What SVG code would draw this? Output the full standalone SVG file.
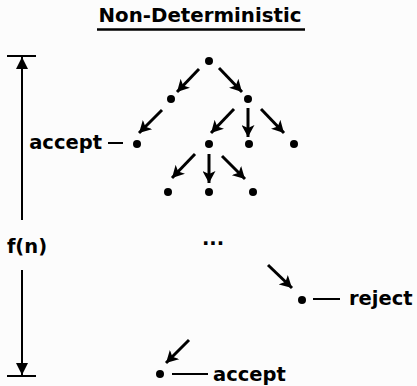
<svg xmlns="http://www.w3.org/2000/svg" width="417" height="386" viewBox="0 0 417 386">
<defs>
<style>
.t{font-family:"DejaVu Sans",Verdana,sans-serif;font-weight:bold;fill:#000}
.e{stroke:#000;stroke-width:3;fill:none;marker-end:url(#ah)}
.d{fill:#000}
.ln{stroke:#000;stroke-width:2;fill:none}
</style>
<marker id="ah" markerUnits="userSpaceOnUse" markerWidth="13" markerHeight="13" refX="12" refY="6.5" orient="auto">
<path d="M0,0 L12,6.5 L0,13 L3,6.5 z" fill="#000"/>
</marker>
<marker id="ah2" markerUnits="userSpaceOnUse" markerWidth="12" markerHeight="12" refX="12" refY="6" orient="auto">
<path d="M0,0 L12,6 L0,12 z" fill="#000"/>
</marker>
</defs>
<rect width="417" height="386" fill="#fcfcfc"/>
<g id="title">
<text class="t" x="200" y="22" font-size="19.8" text-anchor="middle">Non-Deterministic</text>
<line x1="97" y1="29.5" x2="305" y2="29.5" stroke="#000" stroke-width="2.5"/>
</g>
<g id="scale">
<line class="ln" x1="7" y1="56" x2="36" y2="56"/>
<line class="ln" x1="7" y1="376" x2="36" y2="376"/>
<line class="ln" x1="22" y1="220" x2="22" y2="57" marker-end="url(#ah2)"/>
<line class="ln" x1="22" y1="270" x2="22" y2="375" marker-end="url(#ah2)"/>
<text class="t" x="27" y="253" font-size="19.5" text-anchor="middle">f(n)</text>
</g>
<g id="connectors">
<line class="e" x1="199" y1="69" x2="177" y2="92"/>
<line class="e" x1="219" y1="68" x2="242" y2="92"/>
<line class="e" x1="162" y1="110" x2="139" y2="133"/>
<line class="e" x1="234" y1="109" x2="211" y2="133"/>
<line class="e" x1="248" y1="108" x2="248" y2="137"/>
<line class="e" x1="261" y1="109" x2="284" y2="133"/>
<line class="e" x1="195" y1="154" x2="172" y2="178"/>
<line class="e" x1="209" y1="154" x2="209" y2="183"/>
<line class="e" x1="222" y1="156" x2="245" y2="179"/>
<line class="e" x1="268" y1="265" x2="292" y2="288"/>
<line class="e" x1="189" y1="340" x2="166" y2="363"/>
</g>
<g id="n0"><circle class="d" cx="209" cy="61" r="4"/></g>
<g id="n1"><circle class="d" cx="171" cy="99" r="4"/></g>
<g id="n2"><circle class="d" cx="248" cy="99" r="4"/></g>
<g id="n3"><circle class="d" cx="137" cy="144" r="4"/>
<line class="ln" x1="108" y1="143" x2="123" y2="143"/>
<text class="t" x="102" y="149" font-size="19.5" text-anchor="end">accept</text></g>
<g id="n4"><circle class="d" cx="209" cy="144" r="4"/></g>
<g id="n5"><circle class="d" cx="249" cy="144" r="4"/></g>
<g id="n6"><circle class="d" cx="294" cy="144" r="4"/></g>
<g id="n7"><circle class="d" cx="168" cy="192" r="4"/></g>
<g id="n8"><circle class="d" cx="209" cy="192" r="4"/></g>
<g id="n9"><circle class="d" cx="253" cy="192" r="4"/></g>
<g id="dots"><text class="t" x="213" y="245" font-size="19.5" text-anchor="middle">...</text></g>
<g id="n10"><circle class="d" cx="302" cy="300" r="4"/>
<line class="ln" x1="313" y1="299" x2="340" y2="299"/>
<text class="t" x="349" y="305" font-size="19.5">reject</text></g>
<g id="n11"><circle class="d" cx="160" cy="374" r="4"/>
<line class="ln" x1="172" y1="374" x2="208" y2="374"/>
<text class="t" x="213" y="381" font-size="19.5">accept</text></g>
</svg>
